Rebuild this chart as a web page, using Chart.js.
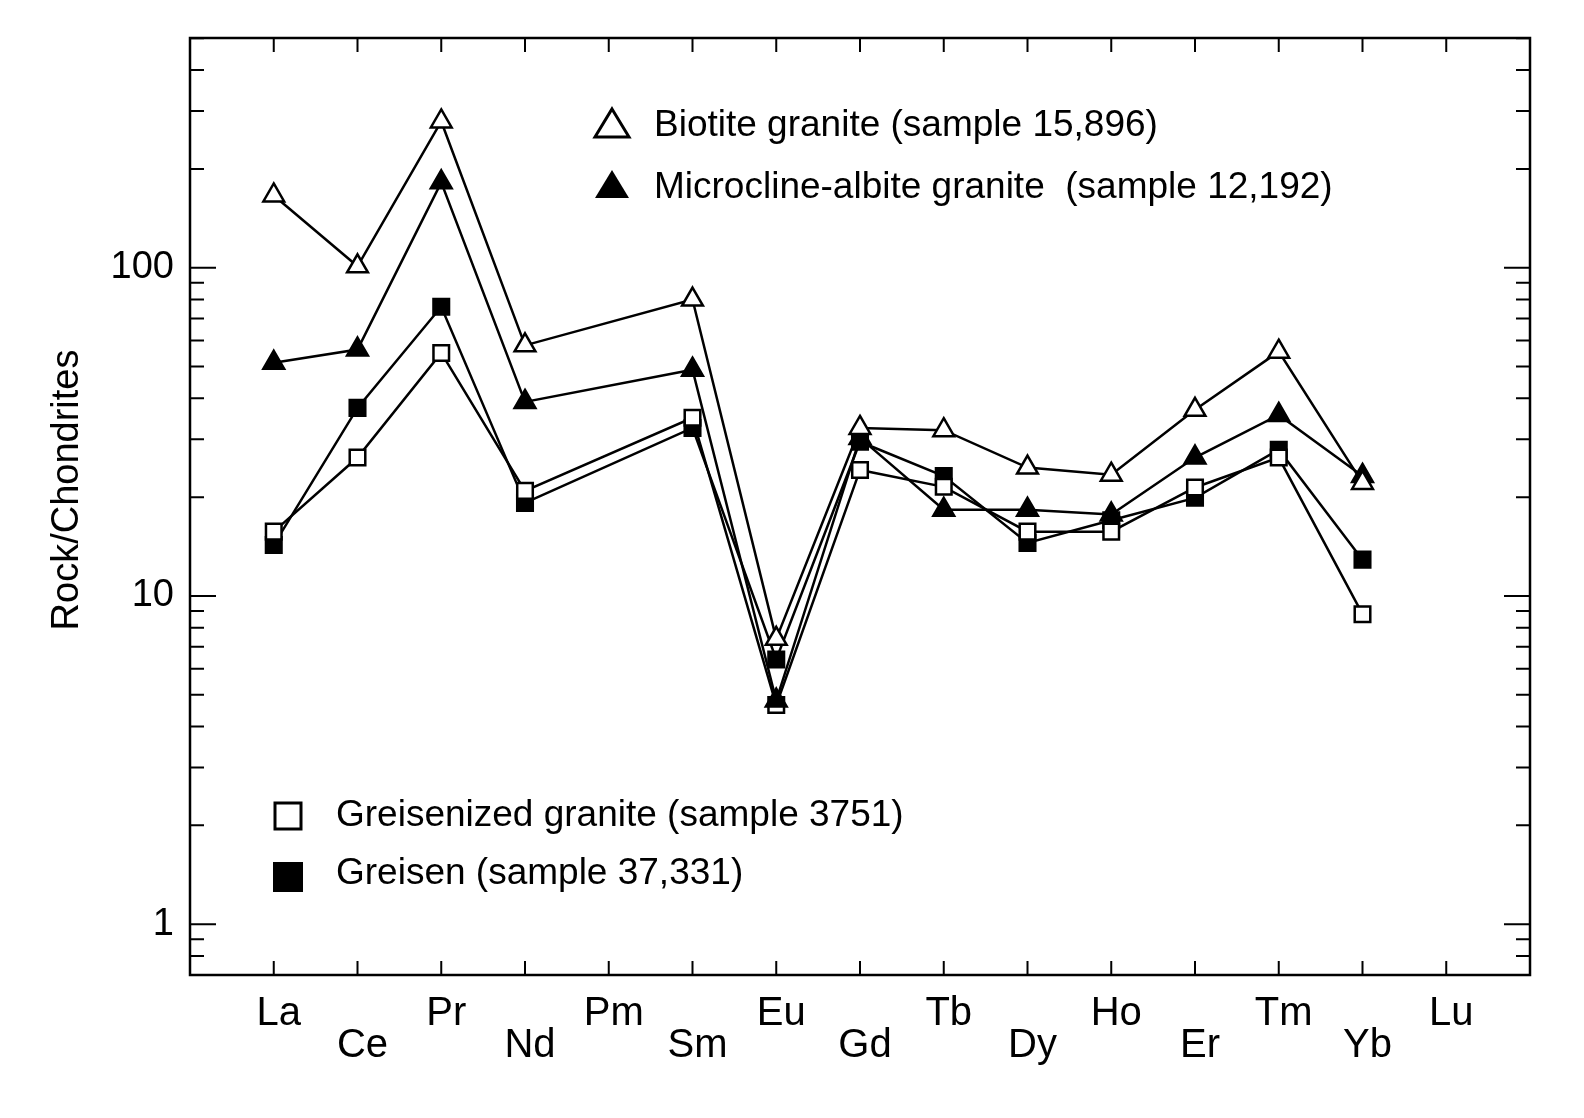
<!DOCTYPE html>
<html>
<head>
<meta charset="utf-8">
<script src="https://cdn.jsdelivr.net/npm/chart.js@4"></script>
<style>
  html, body { margin: 0; padding: 0; background: #fff; overflow: hidden; }
  #wrap { width: 1584px; height: 1118px; }
  canvas { display: block; }
</style>
</head>
<body>
<div id="wrap"><canvas id="c"></canvas></div>
<script>
// REE elements (Pm has no data)
const elements = ['La','Ce','Pr','Nd','Pm','Sm','Eu','Gd','Tb','Dy','Ho','Er','Tm','Yb','Lu'];

const biotite     = [166, 101, 279, 58, null, 80, 7.4, 32.5, 32, 24.6, 23.4, 36.9, 55.5, 22.1, null];
const microcline  = [51.3, 56.3, 182, 39, null, 48.9, 4.8, 30.3, 18.3, 18.3, 17.7, 26.4, 35.6, 23.2, null];
const greisenized = [15.7, 26.4, 55, 20.9, null, 34.9, 4.65, 24.2, 21.5, 15.7, 15.7, 21.4, 26.4, 8.8, null];
const greisen     = [14.3, 37.4, 76, 19.2, null, 32.5, 6.4, 29.5, 23.2, 14.5, 17, 19.9, 27.9, 12.9, null];

const yMajor = [1, 10, 100];
const yMinor = [0.8, 0.9, 2, 3, 4, 5, 6, 7, 8, 9, 20, 30, 40, 50, 60, 70, 80, 90, 200, 300, 400, 500];

const FONT = '"Liberation Sans", Arial, sans-serif';

function pts(arr) {
    return arr.map((v, i) => v == null ? null : { x: i, y: v }).filter(p => p);
}

function ds(label, arr, style, fill) {
    return {
        label, data: pts(arr),
        borderColor: '#000', borderWidth: 2.5,
        pointStyle: style, pointRadius: style === 'triangle' ? 12 : 11,
        pointBackgroundColor: fill ? '#000' : '#fff',
        pointBorderColor: '#000', pointBorderWidth: 2.5,
        tension: 0
    };
}

const decor = {
    id: 'decor',
    afterDraw(chart) {
        const ctx = chart.ctx, a = chart.chartArea;
        const xs = chart.scales.x, ys = chart.scales.y;
        ctx.save();
        ctx.strokeStyle = '#000';
        ctx.lineWidth = 2.5;
        ctx.strokeRect(a.left, a.top, a.right - a.left, a.bottom - a.top);
        ctx.lineWidth = 2;
        ctx.beginPath();
        yMajor.forEach(v => {
            const y = ys.getPixelForValue(v);
            ctx.moveTo(a.left, y); ctx.lineTo(a.left + 26, y);
            ctx.moveTo(a.right, y); ctx.lineTo(a.right - 26, y);
        });
        yMinor.forEach(v => {
            const y = ys.getPixelForValue(v);
            ctx.moveTo(a.left, y); ctx.lineTo(a.left + 14, y);
            ctx.moveTo(a.right, y); ctx.lineTo(a.right - 14, y);
        });
        elements.forEach((e, i) => {
            const x = xs.getPixelForValue(i);
            ctx.moveTo(x, a.bottom); ctx.lineTo(x, a.bottom - 14);
            ctx.moveTo(x, a.top); ctx.lineTo(x, a.top + 14);
        });
        ctx.stroke();

        ctx.fillStyle = '#000';
        ctx.font = '38px ' + FONT;
        ctx.textAlign = 'right'; ctx.textBaseline = 'middle';
        yMajor.forEach(v => ctx.fillText(String(v), a.left - 16, ys.getPixelForValue(v)));

        ctx.font = '40px ' + FONT;
        ctx.textAlign = 'center'; ctx.textBaseline = 'middle';
        elements.forEach((e, i) => {
            const x = xs.getPixelForValue(i) + 5;
            ctx.fillText(e, x, i % 2 === 0 ? 1014 : 1046);
        });

        ctx.save();
        ctx.translate(68, 490);
        ctx.rotate(-Math.PI / 2);
        ctx.font = '38px ' + FONT;
        ctx.fillText('Rock/Chondrites', 0, 0);
        ctx.restore();

        // legends
        ctx.font = '37px ' + FONT;
        ctx.textAlign = 'left';
        ctx.lineWidth = 3;
        const tri = (cx, cy, filled) => {
            ctx.beginPath();
            ctx.moveTo(cx, cy - 15); ctx.lineTo(cx + 17, cy + 13); ctx.lineTo(cx - 17, cy + 13); ctx.closePath();
            if (filled) ctx.fill(); else ctx.stroke();
        };
        const sq = (cx, cy, filled) => {
            if (filled) ctx.fillRect(cx - 15, cy - 15, 30, 30);
            else ctx.strokeRect(cx - 13, cy - 13, 26, 26);
        };
        tri(612, 124, false); ctx.fillText('Biotite granite (sample 15,896)', 654, 126);
        tri(612, 185, true); ctx.fillText('Microcline-albite granite  (sample 12,192)', 654, 188);
        sq(288, 816, false); ctx.fillText('Greisenized granite (sample 3751)', 336, 816);
        sq(288, 877, true); ctx.fillText('Greisen (sample 37,331)', 336, 874);
        ctx.restore();
    }
};

new Chart(document.getElementById('c'), {
    type: 'line',
    data: {
        datasets: [
            ds('Biotite granite (sample 15,896)', biotite, 'triangle', false),
            ds('Microcline-albite granite (sample 12,192)', microcline, 'triangle', true),
            ds('Greisenized granite (sample 3751)', greisenized, 'rect', false),
            ds('Greisen (sample 37,331)', greisen, 'rect', true)
        ]
    },
    options: {
        responsive: true, maintainAspectRatio: false, animation: false,
        layout: { padding: { left: 190, right: 54, top: 38, bottom: 143 } },
        plugins: { legend: { display: false }, tooltip: { enabled: false } },
        scales: {
            x: { type: 'linear', min: -1, max: 15, display: false },
            y: { type: 'logarithmic', min: 0.7, max: 501, display: false }
        }
    },
    plugins: [decor]
});
</script>
</body>
</html>
